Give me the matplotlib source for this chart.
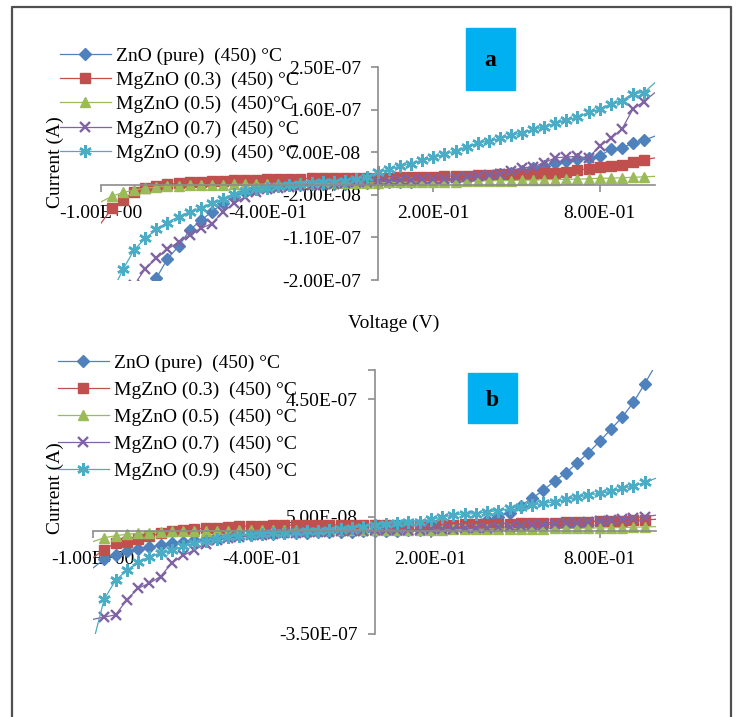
import numpy as np
import matplotlib.pyplot as plt
from matplotlib.lines import Line2D
from matplotlib.patches import Rectangle
from matplotlib.ticker import FixedLocator, FuncFormatter

plt.rcParams['font.family'] = ['Liberation Serif', 'DejaVu Serif']

# voltage steps (V)
voltage = [-1.00, -0.96, -0.92, -0.88, -0.84, -0.80, -0.76, -0.72, -0.68, -0.64,
           -0.60, -0.56, -0.52, -0.48, -0.44, -0.40, -0.36, -0.32, -0.28, -0.24,
           -0.20, -0.16, -0.12, -0.08, -0.04, 0.00, 0.04, 0.08, 0.12, 0.16,
           0.20, 0.24, 0.28, 0.32, 0.36, 0.40, 0.44, 0.48, 0.52, 0.56,
           0.60, 0.64, 0.68, 0.72, 0.76, 0.80, 0.84, 0.88, 0.92, 0.96, 1.00]

# panel a currents, units of 1e-7 A
a_zno = [-4.6, -4.0, -3.4, -2.9, -2.4, -1.96, -1.55, -1.29, -0.95, -0.74,
         -0.56, -0.38, -0.24, -0.14, -0.08, -0.04, -0.02, 0.0, 0.01, 0.02,
         0.02, 0.03, 0.03, 0.04, 0.04, 0.05, 0.06, 0.07, 0.08, 0.09,
         0.10, 0.11, 0.13, 0.15, 0.17, 0.20, 0.23, 0.27, 0.31, 0.36,
         0.41, 0.47, 0.51, 0.55, 0.57, 0.62, 0.76, 0.79, 0.89, 0.95, 1.04]
a_mg03 = [-0.80, -0.48, -0.30, -0.15, -0.06, -0.01, 0.02, 0.04, 0.06, 0.08,
          0.09, 0.10, 0.11, 0.11, 0.12, 0.13, 0.13, 0.14, 0.14, 0.15,
          0.15, 0.15, 0.15, 0.15, 0.15, 0.15, 0.16, 0.17, 0.18, 0.18,
          0.18, 0.19, 0.20, 0.20, 0.21, 0.22, 0.23, 0.24, 0.25, 0.25,
          0.26, 0.27, 0.29, 0.32, 0.35, 0.38, 0.41, 0.44, 0.49, 0.54, 0.58]
a_mg05 = [-0.35, -0.23, -0.15, -0.10, -0.06, -0.04, -0.02, -0.01, 0.0, 0.0,
          0.01, 0.01, 0.02, 0.02, 0.02, 0.03, 0.03, 0.03, 0.04, 0.04,
          0.04, 0.04, 0.05, 0.05, 0.05, 0.05, 0.06, 0.06, 0.07, 0.07,
          0.08, 0.08, 0.08, 0.09, 0.09, 0.10, 0.10, 0.10, 0.11, 0.11,
          0.12, 0.12, 0.13, 0.13, 0.14, 0.15, 0.15, 0.16, 0.17, 0.18, 0.19]
a_mg07 = [-3.3, -2.9, -2.5, -2.1, -1.76, -1.54, -1.35, -1.20, -1.05, -0.91,
          -0.81, -0.56, -0.38, -0.25, -0.15, -0.08, -0.05, -0.03, -0.01, 0.0,
          0.01, 0.02, 0.04, 0.06, 0.08, 0.10, 0.10, 0.11, 0.12, 0.13,
          0.13, 0.13, 0.15, 0.17, 0.20, 0.22, 0.25, 0.31, 0.37, 0.39,
          0.48, 0.58, 0.60, 0.61, 0.58, 0.83, 0.99, 1.18, 1.61, 1.77, 1.96]
a_mg09 = [-2.7, -2.25, -1.77, -1.36, -1.12, -0.93, -0.79, -0.66, -0.56, -0.47,
          -0.38, -0.28, -0.18, -0.12, -0.08, -0.05, -0.01, 0.01, 0.03, 0.04,
          0.06, 0.08, 0.10, 0.13, 0.18, 0.28, 0.34, 0.41, 0.46, 0.54,
          0.59, 0.66, 0.73, 0.82, 0.89, 0.94, 0.99, 1.06, 1.11, 1.18,
          1.24, 1.31, 1.39, 1.44, 1.54, 1.61, 1.72, 1.79, 1.94, 1.96, 2.17]

# panel b currents, units of 1e-7 A
b_zno = [-1.25, -0.95, -0.80, -0.68, -0.60, -0.54, -0.47, -0.40, -0.36, -0.30,
         -0.26, -0.21, -0.17, -0.14, -0.12, -0.10, -0.08, -0.06, -0.05, -0.04,
         -0.03, -0.02, -0.01, -0.01, 0.0, 0.0, 0.01, 0.02, 0.03, 0.04,
         0.06, 0.08, 0.11, 0.16, 0.24, 0.38, 0.50, 0.63, 0.88, 1.13,
         1.40, 1.72, 1.99, 2.34, 2.68, 3.07, 3.48, 3.89, 4.40, 5.03, 5.70]
b_mg03 = [-0.90, -0.62, -0.40, -0.35, -0.26, -0.17, -0.07, 0.0, 0.05, 0.08,
          0.11, 0.13, 0.15, 0.17, 0.18, 0.19, 0.20, 0.21, 0.21, 0.22,
          0.22, 0.22, 0.22, 0.22, 0.22, 0.21, 0.21, 0.21, 0.21, 0.22,
          0.22, 0.23, 0.23, 0.24, 0.24, 0.25, 0.25, 0.26, 0.27, 0.28,
          0.29, 0.30, 0.31, 0.32, 0.33, 0.34, 0.35, 0.36, 0.38, 0.39, 0.41]
b_mg05 = [-0.35, -0.22, -0.15, -0.10, -0.07, -0.04, -0.02, 0.0, 0.01, 0.01,
          0.02, 0.02, 0.02, 0.03, 0.03, 0.03, 0.03, 0.03, 0.04, 0.04,
          0.04, 0.04, 0.04, 0.05, 0.05, 0.05, 0.05, 0.05, 0.06, 0.06,
          0.06, 0.06, 0.07, 0.07, 0.07, 0.08, 0.08, 0.08, 0.09, 0.09,
          0.09, 0.10, 0.10, 0.11, 0.11, 0.12, 0.12, 0.13, 0.14, 0.15, 0.16]
b_mg07 = [-3.0, -2.92, -2.85, -2.34, -1.94, -1.77, -1.54, -1.08, -0.82, -0.64,
          -0.42, -0.31, -0.23, -0.18, -0.14, -0.11, -0.08, -0.06, -0.04, -0.03,
          -0.02, -0.01, 0.0, 0.01, 0.02, 0.03, 0.04, 0.05, 0.05, 0.06,
          0.07, 0.08, 0.09, 0.10, 0.11, 0.13, 0.14, 0.16, 0.18, 0.20,
          0.22, 0.25, 0.27, 0.30, 0.33, 0.36, 0.39, 0.42, 0.46, 0.50, 0.55]
b_mg09 = [-3.8, -2.31, -1.67, -1.33, -1.06, -0.86, -0.74, -0.64, -0.51, -0.41,
          -0.34, -0.26, -0.20, -0.15, -0.12, -0.09, -0.06, -0.04, -0.02, 0.0,
          0.02, 0.05, 0.08, 0.12, 0.16, 0.21, 0.24, 0.27, 0.31, 0.33,
          0.41, 0.48, 0.56, 0.59, 0.60, 0.67, 0.70, 0.78, 0.84, 0.90,
          0.95, 1.01, 1.09, 1.16, 1.24, 1.30, 1.36, 1.47, 1.55, 1.67, 1.81]

labels_a = ['ZnO (pure)  (450) °C', 'MgZnO (0.3)  (450) °C', 'MgZnO (0.5)  (450)°C',
            'MgZnO (0.7)  (450) °C', 'MgZnO (0.9)  (450) °C']
labels_b = ['ZnO (pure)  (450) °C', 'MgZnO (0.3)  (450) °C', 'MgZnO (0.5)  (450) °C',
            'MgZnO (0.7)  (450) °C', 'MgZnO (0.9)  (450) °C']

xticks = [-1.0, -0.4, 0.2, 0.8]
yticks_a = [-2.0e-7, -1.1e-7, -2.0e-8, 7.0e-8, 1.6e-7, 2.5e-7]
yticks_b = [-3.5e-7, 5.0e-8, 4.5e-7]

colors = ['#4F81BD', '#C0504D', '#9BBB59', '#8064A2', '#4BACC6']
markers = ['D', 's', '^', 'x', (6, 2, 0)]
msizes = [6.5, 6.5, 7.5, 7, 9]
mews = [1, 1, 1, 1.7, 1.8]

W, H = 739, 717
fig = plt.figure(figsize=(W / 100, H / 100), dpi=100)


def px_rect(x0, y0, x1, y1):
    # pixel box (top-left origin) -> figure fraction [l, b, w, h]
    return [x0 / W, 1 - y1 / H, (x1 - x0) / W, (y1 - y0) / H]


sci = FuncFormatter(lambda v, pos: '{:.2E}'.format(v))


def draw_panel(ax, series, labels, yticks, ylim, legend_xy, spacing):
    x = np.array(voltage)
    for vals, c, m, ms, mew, lab in zip(series, colors, markers, msizes, mews, labels):
        ax.plot(x, np.array(vals) * 1e-7, color=c, lw=0.9, marker=m, ms=ms,
                mew=mew, mec=c, mfc=c, markevery=slice(1, -1), label=lab)
    ax.set_xlim(-1, 1)
    ax.set_ylim(*ylim)
    for s in ['top', 'right']:
        ax.spines[s].set_visible(False)
    ax.spines['left'].set_position(('data', 0))
    ax.spines['bottom'].set_position(('data', 0))
    for s in ['left', 'bottom']:
        ax.spines[s].set_color('#8c8c8c')
        ax.spines[s].set_linewidth(1.2)
    ax.xaxis.set_major_locator(FixedLocator(xticks))
    ax.yaxis.set_major_locator(FixedLocator(yticks))
    ax.xaxis.set_major_formatter(sci)
    ax.yaxis.set_major_formatter(sci)
    ax.tick_params(axis='both', direction='out', length=5, width=1.2,
                   color='#8c8c8c', labelsize=14, labelcolor='black')
    ax.tick_params(axis='x', pad=9.5)
    ax.tick_params(axis='y', pad=7)
    ax.patch.set_alpha(0)
    fig.legend(*ax.get_legend_handles_labels(), loc='upper left',
               bbox_to_anchor=legend_xy, bbox_transform=fig.transFigure,
               frameon=False, fontsize=14, borderpad=0, borderaxespad=0,
               handlelength=2.6, handletextpad=0.3, labelspacing=spacing)


ax_a = fig.add_axes(px_rect(101, 67, 655, 280))
draw_panel(ax_a, [a_zno, a_mg03, a_mg05, a_mg07, a_mg09], labels_a, yticks_a,
           (-2.0e-7, 2.5e-7), (60 / W, 1 - 47 / H), 0.34)

ax_b = fig.add_axes(px_rect(93, 370, 656, 634))
draw_panel(ax_b, [b_zno, b_mg03, b_mg05, b_mg07, b_mg09], labels_b, yticks_b,
           (-3.5e-7, 5.5e-7), (58 / W, 1 - 354 / H), 0.48)
ax_b.yaxis.set_minor_locator(FixedLocator([5.5e-7]))
ax_b.tick_params(axis='y', which='minor', length=5, width=1.2, color='#8c8c8c')

# axis titles
fig.text(55 / W, 1 - 162 / H, 'Current (A)', rotation=90, fontsize=14,
         ha='center', va='center')
fig.text(55 / W, 1 - 488 / H, 'Current (A)', rotation=90, fontsize=14,
         ha='center', va='center')
fig.text(394 / W, 1 - 323 / H, 'Voltage (V)', fontsize=14, ha='center', va='center')

# panel tags
for (x0, y0, x1, y1), tag in [((466, 28, 515, 90), 'a'), ((468, 373, 517, 423), 'b')]:
    fig.patches.append(Rectangle((x0 / W, 1 - y1 / H), (x1 - x0) / W, (y1 - y0) / H,
                                 transform=fig.transFigure, color='#00B0F0', zorder=0))
    fig.text((x0 + x1) / 2 / W, 1 - ((y0 + y1) / 2 + 2) / H, tag, fontsize=17,
             fontweight='bold', ha='center', va='center')

# outer frame (open at the bottom)
frame_x = [12 / W, 12 / W, 731 / W, 731 / W]
frame_y = [0, 1 - 7 / H, 1 - 7 / H, 0]
fig.add_artist(Line2D(frame_x, frame_y, transform=fig.transFigure,
                      color='#505050', lw=1.6))

fig.savefig('out.png', dpi=100)
